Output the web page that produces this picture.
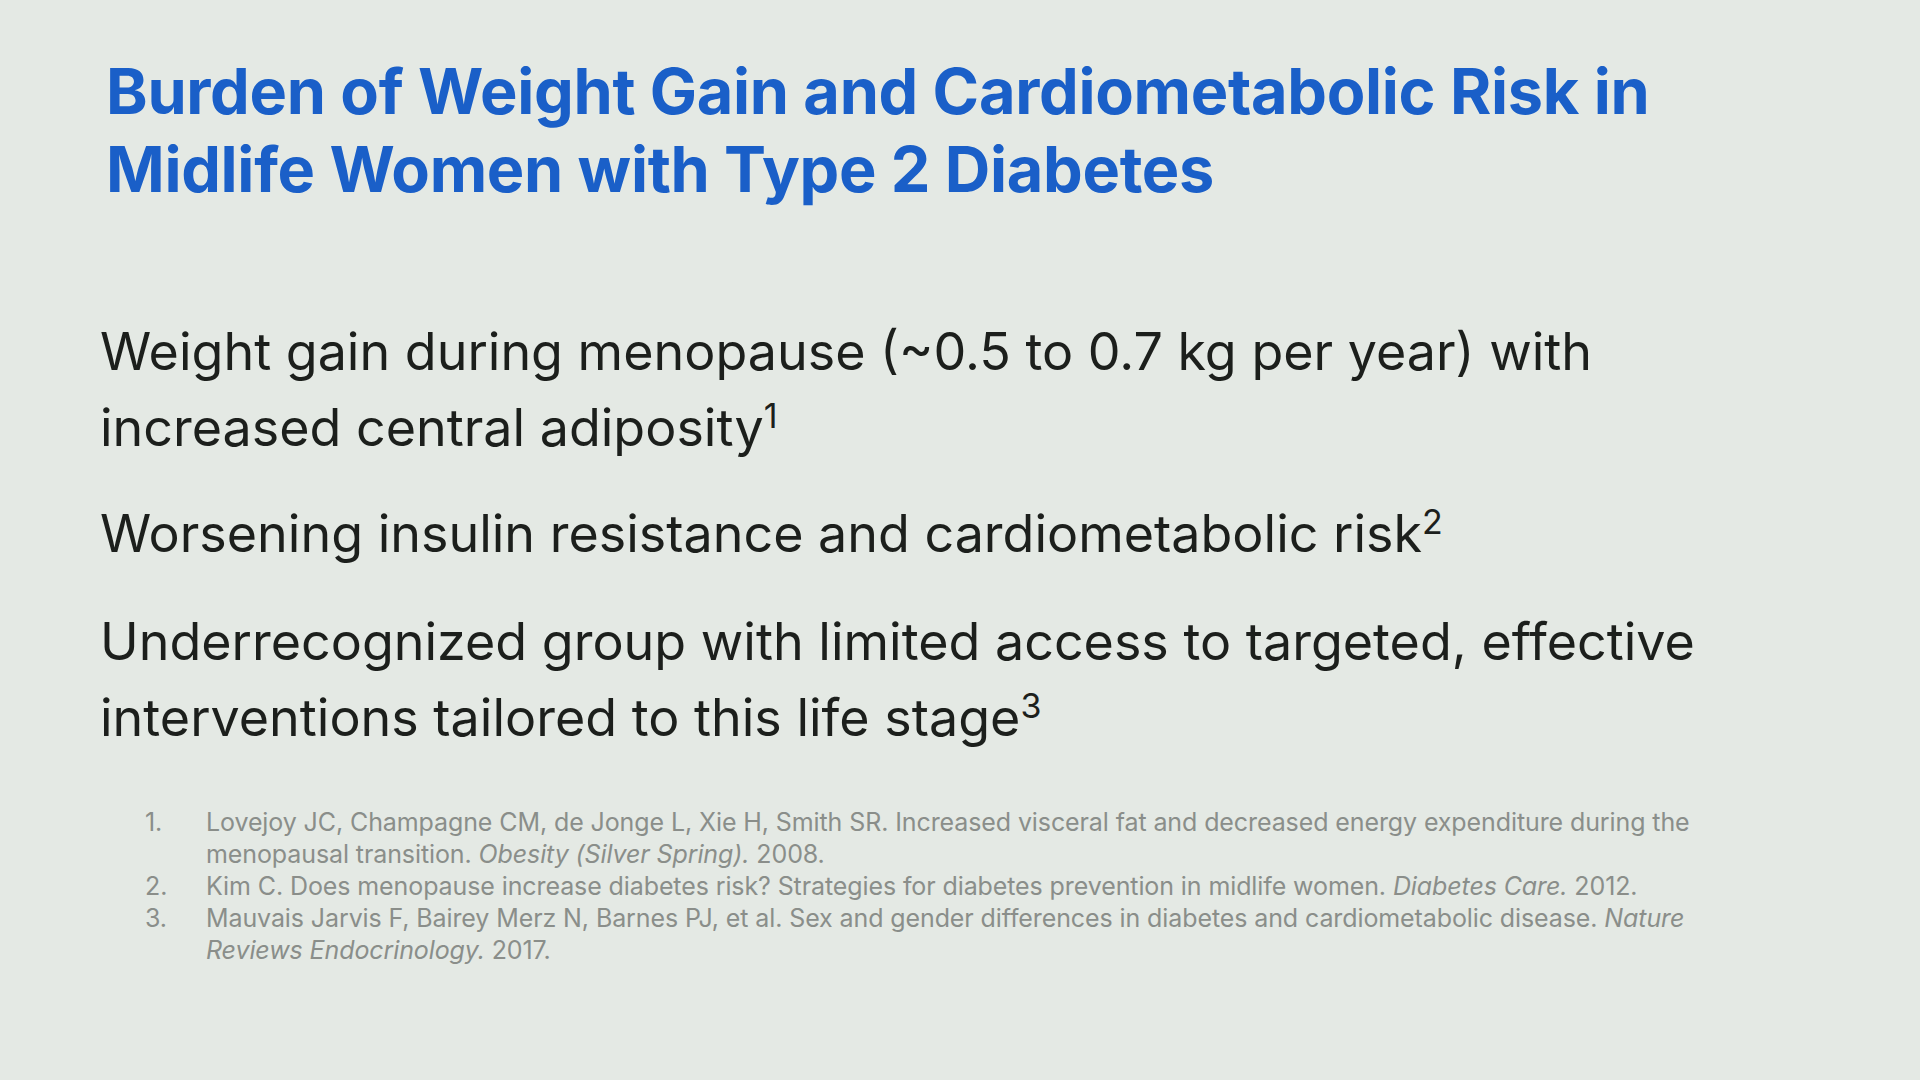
<!DOCTYPE html>
<html lang="en">
<head>
  <meta charset="UTF-8">
  <title>Burden of Weight Gain</title>
  <script src="https://cdn.jsdelivr.net/npm/chart.js"></script>
  <style>
    html, body { margin: 0; padding: 0; }
    body {
      width: 1920px; height: 1080px; overflow: hidden;
      background: #e4e9e4; font-family: Inter, "Open Sans", sans-serif;
      position: relative;
    }
    h1 {
      position: absolute; left: 106px; top: 52px; margin: 0;
      color: #1a5fc8; font-size: 63px; font-weight: 700; line-height: 78px;
      letter-spacing: -0.3px; white-space: nowrap;
    }
    .bullet {
      position: absolute; left: 100px; margin: 0;
      color: #1c1f1c; font-size: 52px; line-height: 76px; white-space: nowrap;
      letter-spacing: 0;
    }
    .bullet sup { font-size: 34px; vertical-align: 18px; line-height: 0; }
    .refs {
      position: absolute; left: 145px; top: 806px; margin: 0; padding: 0;
      list-style: none; color: #8a8e8a; font-size: 25px; line-height: 32px;
      letter-spacing: -0.1px;
    }
    .refs li { display: flex; white-space: nowrap; }
    .refs .n { width: 61px; flex: none; }
  </style>
</head>
<body>
  <h1>Burden of Weight Gain and Cardiometabolic Risk in<br>Midlife Women with Type 2 Diabetes</h1>
  <div id="bullets"></div>
  <ol class="refs" id="refs"></ol>
  <script>
    const bulletLines = [
      ['Weight gain during menopause (~0.5 to 0.7 kg per year) with', 'increased central adiposity<sup>1</sup>'],
      ['Worsening insulin resistance and cardiometabolic risk<sup>2</sup>'],
      ['Underrecognized group with limited access to targeted, effective', 'interventions tailored to this life stage<sup>3</sup>']
    ];
    const bulletTops = [314, 496, 604];
    const refTexts = [
      'Lovejoy JC, Champagne CM, de Jonge L, Xie H, Smith SR. Increased visceral fat and decreased energy expenditure during the<br>menopausal transition. <i>Obesity (Silver Spring).</i> 2008.',
      'Kim C. Does menopause increase diabetes risk? Strategies for diabetes prevention in midlife women. <i>Diabetes Care.</i> 2012.',
      'Mauvais Jarvis F, Bairey Merz N, Barnes PJ, et al. Sex and gender differences in diabetes and cardiometabolic disease. <i>Nature<br>Reviews Endocrinology.</i> 2017.'
    ];

    const bulletsEl = document.getElementById('bullets');
    bulletLines.forEach((lines, i) => {
      const p = document.createElement('p');
      p.className = 'bullet';
      p.style.top = bulletTops[i] + 'px';
      p.innerHTML = lines.join('<br>');
      bulletsEl.appendChild(p);
    });

    const refsEl = document.getElementById('refs');
    refTexts.forEach((t, i) => {
      const li = document.createElement('li');
      li.innerHTML = `<span class="n">${i + 1}.</span><span class="t">${t}</span>`;
      refsEl.appendChild(li);
    });
  </script>
</body>
</html>
